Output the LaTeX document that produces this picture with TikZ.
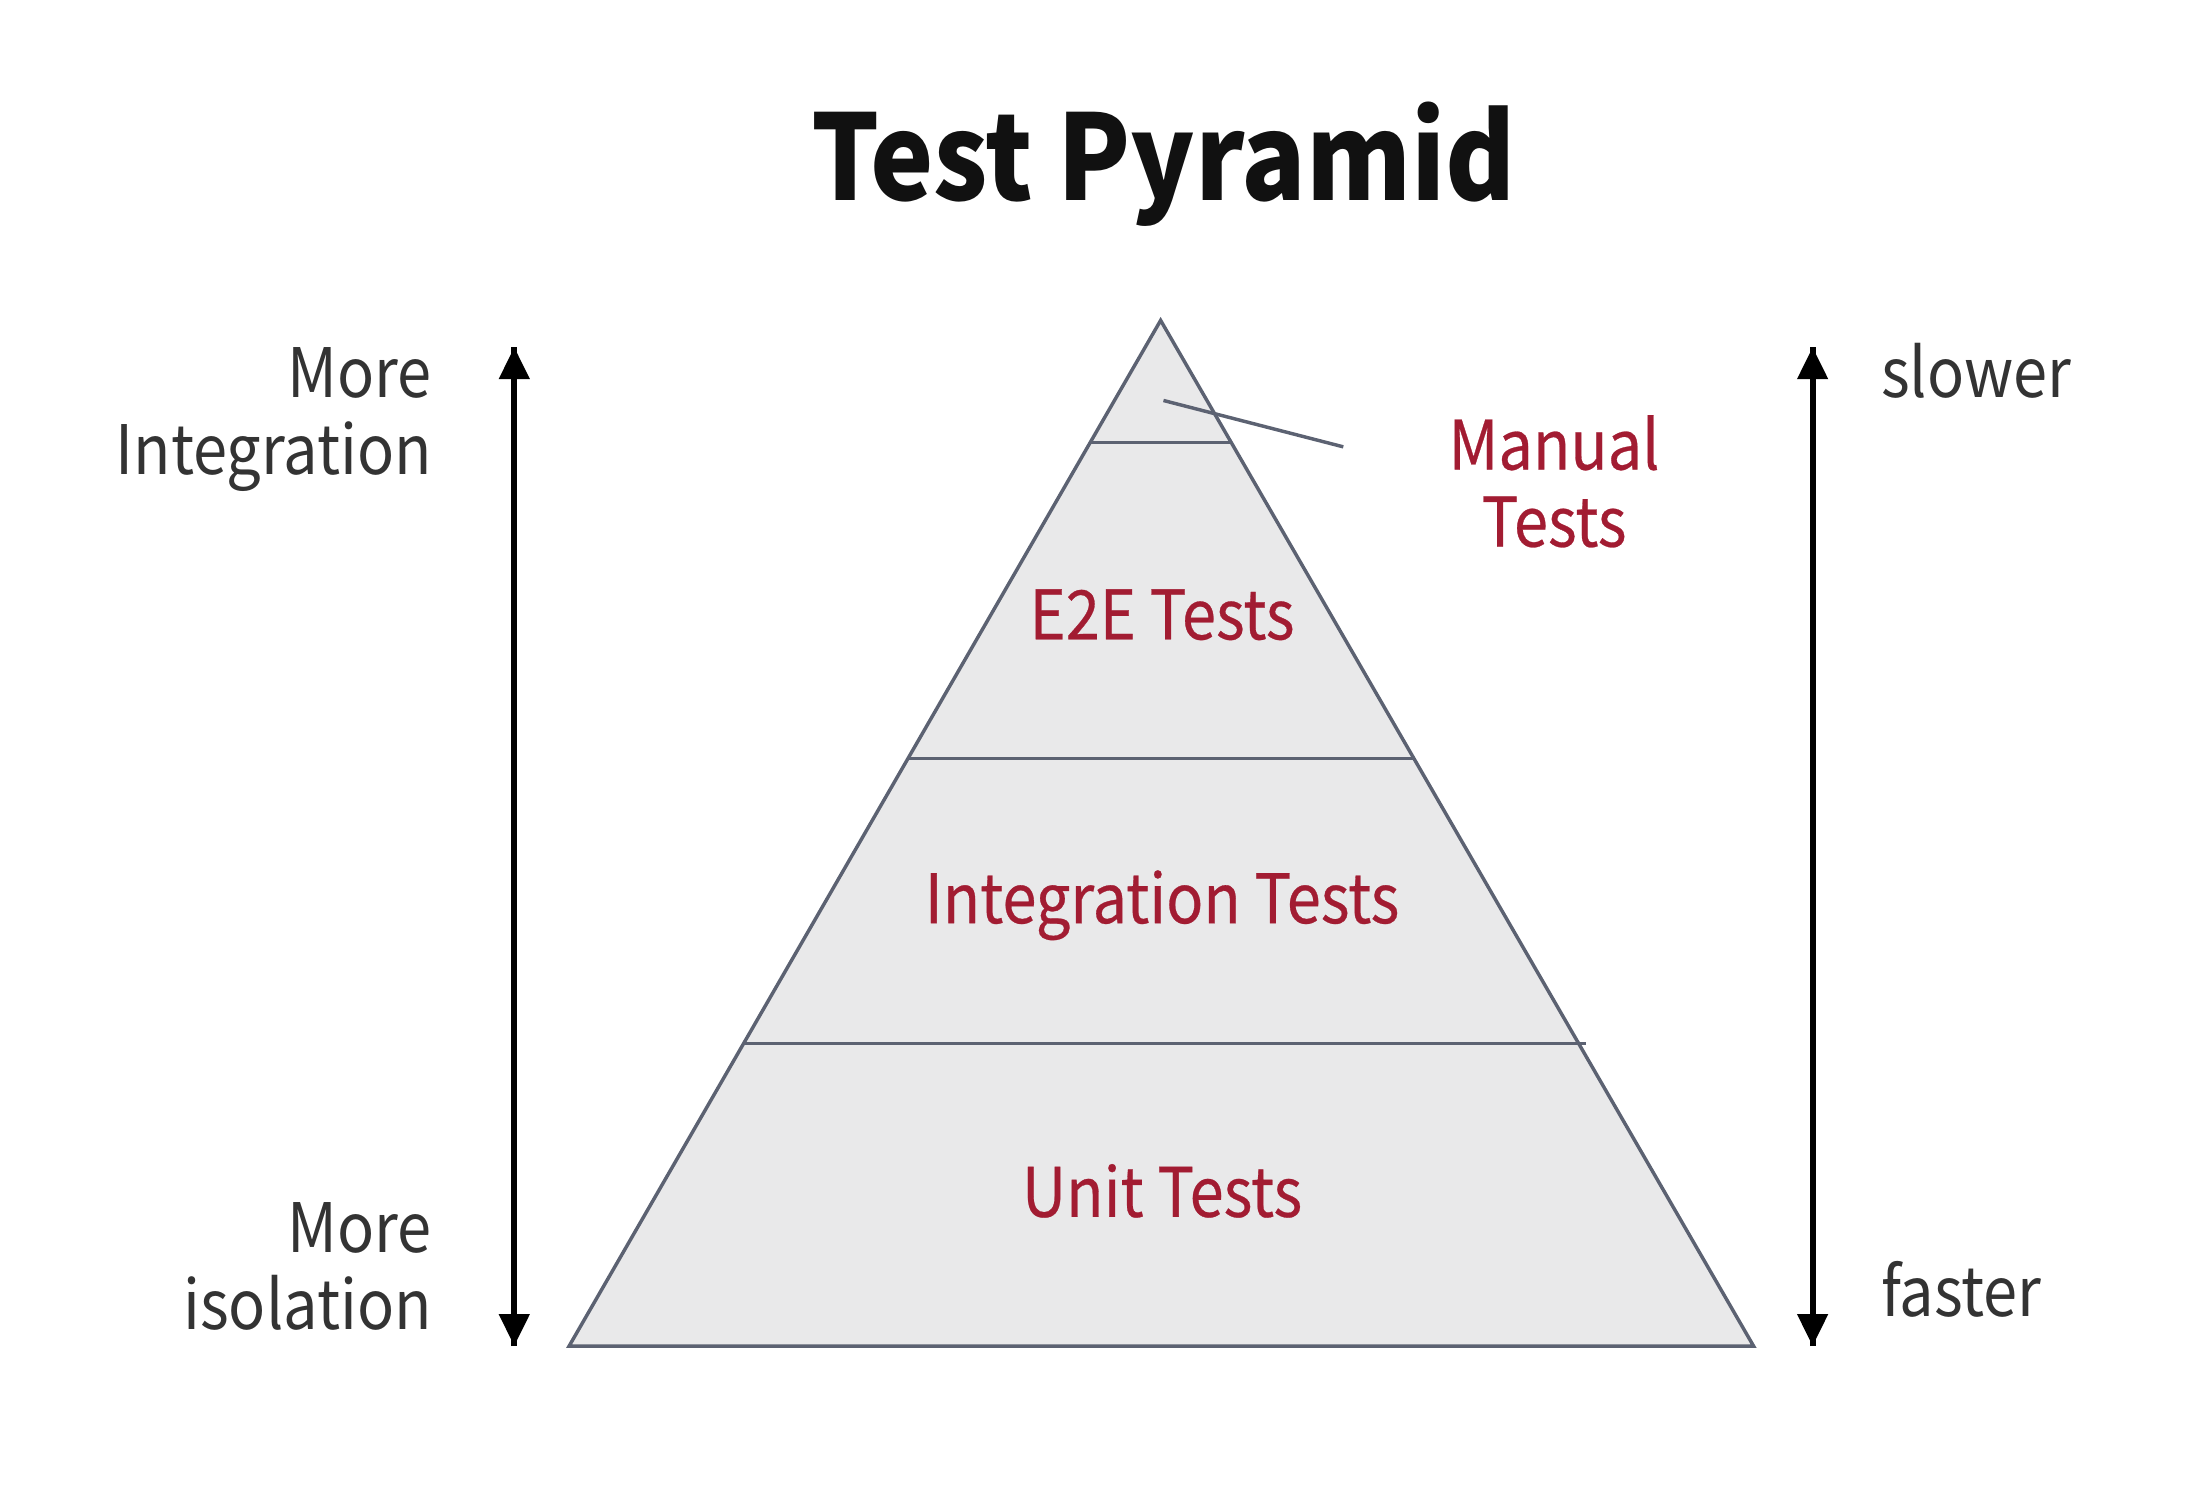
\documentclass[tikz,border=0pt]{standalone}
\usepackage{fontspec}
\setmainfont{Noto Sans CJK KR}[FakeStretch=0.9]
\newfontfamily\layerfont{Noto Sans CJK KR}[FakeStretch=0.9,FakeBold=0.4]
\usepackage{xcolor}
\usepackage{tikz}
\usetikzlibrary{arrows.meta,calc,positioning}
\definecolor{layerred}{RGB}{162,28,50}
\definecolor{sidegray}{RGB}{51,51,51}
\definecolor{edgegray}{RGB}{92,98,114}
\definecolor{layerfill}{RGB}{233,233,234}
\definecolor{titleblack}{RGB}{17,17,17}

\begin{document}
\begin{tikzpicture}[x=0.01cm,y=-0.01cm,
    layer/.style={text=layerred,font=\layerfont\fontsize{13.8}{15.6}\selectfont,inner sep=0pt},
    side/.style={text=sidegray,font=\fontsize{13.8}{15.6}\selectfont,inner sep=0pt},
    sep/.style={draw=edgegray,line width=0.7pt},
    scalearrow/.style={-{Triangle[length=6.5pt,width=6pt]},line width=1.2pt,black}]

    \useasboundingbox (0,0) rectangle (1560,1060);

    % The title
    \node [anchor=base,inner sep=0pt,text=titleblack,font=\fontsize{24}{28}\selectfont\bfseries] at (828,143) (title) {Test Pyramid};

    % The pyramid
    \coordinate (apex) at (826,228);
    \coordinate (bl) at (405,958);
    \coordinate (br) at (1248,958);
    \path[fill=layerfill,draw=edgegray,line width=0.7pt] (apex) -- (bl) -- (br) -- cycle;

    % Layer borders
    \draw[sep] ($(apex)!0.119!(bl)$) -- ($(apex)!0.119!(br)$);
    \draw[sep] ($(apex)!0.427!(bl)$) -- ($(apex)!0.427!(br)$);
    \draw[sep] ($(apex)!0.705!(bl)$) -- ($(apex)!0.705!(br)$) -- +(5,0);

    % Layer labels
    \node [layer,anchor=base] at (827,455) (e2e) {E2E Tests};
    \node [layer,anchor=base] at (827,657) (integ) {Integration Tests};
    \node [layer,anchor=base] at (827,866) (unit) {Unit Tests};
    \node [layer,anchor=base,align=center] at (1106,389) (manual) {Manual\\Tests};
    \coordinate (tip) at (828,285);
    \coordinate (lead) at (956,318);
    \draw[sep] (tip) -- (lead);

    % Side scales
    \coordinate (ltop) at (366,247);
    \coordinate (lbot) at (366,958);
    \coordinate (rtop) at (1290,247);
    \coordinate (rbot) at (1290,958);
    \draw[scalearrow] (lbot) -- (ltop);
    \draw[scalearrow] (ltop) -- (lbot);
    \draw[scalearrow] (rbot) -- (rtop);
    \draw[scalearrow] (rtop) -- (rbot);

    \node [side,anchor=base east,align=right] at (308,338) (moreint) {More\\Integration};
    \node [side,anchor=base east,align=right] at (308,946) (moreiso) {More\\isolation};
    \node [side,anchor=base west] at (1338,283) (slower) {slower};
    \node [side,anchor=base west] at (1338,937) (faster) {faster};

\end{tikzpicture}
\end{document}
